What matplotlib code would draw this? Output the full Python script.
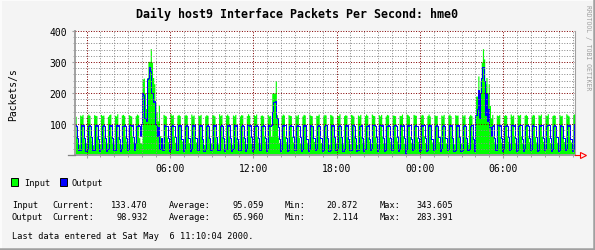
import numpy as np
import matplotlib
matplotlib.use("Agg")
import matplotlib.pyplot as plt
from matplotlib.lines import Line2D
from matplotlib.patches import Rectangle
from matplotlib.ticker import MultipleLocator

W, H = 595, 251
MONO = "DejaVu Sans Mono"

title = "Daily host9 Interface Packets Per Second: hme0"
ylabel = "Packets/s"
watermark = "RRDTOOL / TOBI OETIKER"
hour_ticks = [0, 6, 12, 18, 24, 30]
hour_labels = ["", "06:00", "12:00", "18:00", "00:00", "06:00"]
y_ticks = [0, 100, 200, 300, 400]
y_labels = ["", "100", "200", "300", "400"]
series_names = ["Input", "Output"]
series_colors = ["#00ff00", "#0000ff"]

# 5 minute samples, hours relative to the first midnight, first sample at 23:10
t_start = -50 / 60.0
t_step = 5 / 60.0

input_pps = [
    125, 60, 42, 35, 129, 126, 131, 57, 40, 37,                      # 23:10
    126, 132, 128, 63, 45, 33, 130, 128, 127, 61, 39, 36,            # 00
    131, 127, 129, 58, 43, 38, 125, 130, 132, 62, 41, 34,            # 01
    128, 126, 133, 60, 37, 35, 129, 131, 127, 59, 44, 36,            # 02
    130, 128, 126, 61, 42, 39, 127, 132, 129, 56, 40, 38,            # 03
    245, 248, 200, 150, 250, 302, 302, 343, 300, 250, 230, 170,      # 04
    140, 110, 160, 62, 40, 36, 131, 128, 126, 58, 43, 37,            # 05
    134, 128, 130, 60, 41, 36, 128, 131, 127, 62, 45, 35,            # 06
    127, 131, 128, 57, 40, 38, 132, 126, 129, 63, 42, 36,            # 07
    129, 127, 131, 61, 44, 34, 126, 130, 128, 59, 39, 37,            # 08
    131, 129, 126, 58, 42, 36, 133, 127, 130, 60, 21, 38,            # 09
    128, 132, 127, 62, 40, 35, 129, 126, 131, 57, 43, 36,            # 10
    126, 130, 129, 60, 45, 37, 127, 133, 128, 61, 38, 35,            # 11
    130, 127, 132, 59, 41, 36, 128, 129, 126, 62, 44, 38,            # 12
    131, 126, 128, 60, 200, 200, 200, 240, 130, 58, 40, 36,          # 13
    127, 132, 129, 61, 43, 35, 130, 128, 127, 60, 42, 37,            # 14
    129, 126, 131, 57, 39, 36, 126, 131, 129, 63, 41, 34,            # 15
    132, 128, 127, 59, 44, 37, 128, 127, 132, 61, 40, 36,            # 16
    126, 131, 129, 62, 41, 35, 131, 129, 126, 58, 43, 38,            # 17
    128, 127, 133, 60, 38, 36, 127, 130, 128, 59, 45, 37,            # 18
    131, 129, 126, 63, 42, 34, 129, 126, 131, 61, 40, 35,            # 19
    127, 132, 128, 58, 44, 38, 132, 128, 127, 60, 41, 36,            # 20
    130, 126, 131, 61, 39, 37, 126, 131, 129, 57, 43, 35,            # 21
    129, 128, 127, 59, 45, 36, 128, 127, 132, 62, 38, 34,            # 22
    132, 130, 126, 60, 41, 38, 131, 129, 128, 58, 44, 37,            # 23
    126, 131, 129, 62, 40, 35, 127, 132, 126, 61, 42, 36,            # 00
    130, 127, 128, 57, 43, 37, 129, 126, 131, 60, 39, 34,            # 01
    128, 132, 127, 63, 41, 36, 130, 128, 129, 59, 45, 38,            # 02
    131, 126, 130, 58, 44, 35, 126, 131, 127, 62, 40, 37,            # 03
    190, 190, 255, 200, 240, 300, 343, 310, 230, 250, 200, 230,      # 04
    160, 120, 131, 61, 42, 36, 129, 127, 130, 60, 41, 35,            # 05
    127, 130, 128, 59, 44, 37, 132, 126, 129, 62, 40, 36,            # 06
    130, 128, 131, 62, 39, 35, 128, 131, 127, 58, 43, 38,            # 07
    126, 131, 129, 60, 42, 36, 130, 127, 132, 61, 44, 35,            # 08
    129, 127, 133, 57, 40, 38, 127, 130, 128, 63, 41, 37,            # 09
    131, 126, 128, 61, 43, 34, 133, 129, 126, 59, 42, 36,            # 10
    131, 133,                                                        # 11:00
]

output_pps = [
    97, 94, 55, 15, 17, 96, 94, 98, 54, 13,                          # 23:10
    18, 95, 97, 94, 57, 15, 16, 96, 93, 97, 52, 12,                  # 00
    20, 94, 98, 95, 55, 14, 18, 97, 95, 96, 56, 16,                  # 01
    17, 96, 95, 97, 53, 13, 19, 94, 98, 95, 55, 15,                  # 02
    19, 97, 94, 96, 58, 16, 40, 95, 97, 94, 60, 100,                 # 03
    200, 195, 120, 110, 245, 250, 283, 270, 200, 170, 175, 100,      # 04
    95, 60, 90, 20, 55, 15, 17, 96, 95, 93, 56, 14,                  # 05
    18, 95, 97, 94, 57, 15, 16, 96, 93, 97, 52, 12,                  # 06
    20, 94, 98, 95, 55, 14, 18, 97, 95, 96, 56, 16,                  # 07
    17, 96, 95, 97, 53, 13, 19, 94, 98, 95, 55, 15,                  # 08
    19, 97, 94, 96, 58, 16, 17, 95, 96, 94, 54, 14,                  # 09
    18, 96, 93, 97, 56, 12, 20, 97, 95, 98, 53, 15,                  # 10
    16, 94, 97, 95, 55, 14, 18, 96, 94, 97, 57, 13,                  # 11
    19, 95, 98, 94, 54, 16, 17, 93, 96, 95, 56, 12,                  # 12
    18, 97, 95, 96, 140, 170, 170, 175, 120, 90, 52, 14,             # 13
    20, 96, 94, 97, 55, 13, 16, 95, 97, 94, 58, 15,                  # 14
    17, 94, 96, 95, 57, 14, 19, 97, 93, 96, 53, 12,                  # 15
    18, 97, 95, 93, 56, 16, 20, 94, 98, 95, 55, 14,                  # 16
    16, 95, 97, 96, 54, 13, 17, 96, 94, 97, 57, 15,                  # 17
    19, 93, 96, 94, 58, 12, 18, 97, 95, 96, 52, 16,                  # 18
    17, 96, 98, 95, 55, 14, 16, 95, 93, 97, 56, 13,                  # 19
    20, 94, 95, 97, 53, 15, 19, 96, 97, 94, 57, 12,                  # 20
    18, 97, 94, 96, 56, 13, 17, 94, 96, 95, 54, 16,                  # 21
    16, 95, 97, 93, 57, 14, 20, 97, 95, 98, 55, 2,                   # 22
    19, 96, 94, 97, 52, 15, 18, 93, 97, 95, 56, 13,                  # 23
    17, 97, 95, 96, 55, 12, 16, 96, 94, 97, 53, 15,                  # 00
    20, 94, 98, 94, 57, 14, 19, 95, 96, 93, 55, 16,                  # 01
    18, 96, 93, 97, 54, 13, 17, 97, 95, 96, 58, 12,                  # 02
    16, 95, 97, 95, 56, 15, 18, 94, 96, 97, 53, 14,                  # 03
    130, 150, 210, 120, 200, 250, 283, 240, 130, 200, 110, 150,      # 04
    90, 60, 95, 96, 55, 15, 17, 96, 94, 97, 54, 13,                  # 05
    19, 95, 97, 94, 57, 16, 18, 97, 95, 96, 55, 14,                  # 06
    17, 94, 96, 97, 53, 12, 20, 95, 98, 94, 56, 15,                  # 07
    18, 97, 94, 95, 58, 13, 16, 96, 93, 97, 54, 16,                  # 08
    20, 95, 97, 96, 55, 14, 19, 94, 96, 95, 57, 12,                  # 09
    17, 96, 95, 93, 56, 15, 18, 97, 94, 98, 53, 13,                  # 10
    18, 99,                                                          # 11:00
]

stat_names = ["Current:", "Average:", "Min:", "Max:"]
input_stats = [133.470, 95.059, 20.872, 343.605]
output_stats = [98.932, 65.960, 2.114, 283.391]
last_update = "Last data entered at Sat May  6 11:10:04 2000."


def fx(x):
    return x / W


def fy(y):
    return 1 - y / H


fig = plt.figure(figsize=(W / 100, H / 100), dpi=100, facecolor="#f4f4f4")
ax = fig.add_axes([fx(75), fy(156), fx(575) - fx(75), fy(32) - fy(156)])
ax.set_facecolor("white")

t = t_start + t_step * np.arange(len(input_pps) + 1)
gin = np.append(input_pps, input_pps[-1])
gout = np.append(output_pps, output_pps[-1])
ax.fill_between(t, 0, gin, step="post", color=series_colors[0], lw=0, zorder=1)
ax.step(t, gout, where="post", color=series_colors[1], lw=0.72, zorder=2)

ax.set_xlim(t[0], t[-1])
ax.set_ylim(0, 400)
ax.set_xticks(hour_ticks, hour_labels)
ax.set_yticks(y_ticks, y_labels)
ax.xaxis.set_minor_locator(MultipleLocator(1))
ax.yaxis.set_minor_locator(MultipleLocator(20))

# grid on top of the data, like rrdtool
ax.set_axisbelow(False)
ax.grid(which="minor", color="#8c8c8c", ls=(0, (1, 1.6)), lw=0.72, zorder=3)
ax.grid(which="major", color="#800000", ls=(0, (1, 1.6)), lw=0.72, zorder=4)

ax.spines["top"].set_visible(False)
ax.spines["left"].set_color("#a0a0a0")
ax.spines["left"].set_linewidth(1.4)
ax.spines["bottom"].set_color("#a0a0a0")
ax.spines["bottom"].set_linewidth(1.4)
ax.spines["right"].set_color("#a0a0a0")
ax.spines["right"].set_linewidth(0.8)

ax.tick_params(which="major", direction="out", length=2.5, width=0.8,
               color="#a0a0a0", labelsize=7, pad=3)
ax.tick_params(which="minor", direction="out", length=1.5, width=0.7,
               color="#a0a0a0")
for lab in ax.get_xticklabels() + ax.get_yticklabels():
    lab.set_fontfamily(MONO)

# zero dash and red arrow at the end of the time axis
fig.add_artist(Line2D([fx(68), fx(75)], [fy(156), fy(156)], color="#808080", lw=0.9))
fig.add_artist(Line2D([fx(575), fx(580)], [fy(156), fy(156)], color="red", lw=0.8))
fig.add_artist(Line2D([fx(582.5)], [fy(156)], marker=">", ms=4.5, mfc="none",
                      mec="red", mew=0.8))

fig.text(fx(297), fy(14), title, ha="center", va="center", fontsize=8.4,
         weight="bold", family=MONO)
fig.text(fx(13), fy(95), ylabel, rotation=90, ha="center", va="center",
         fontsize=7, family=MONO)
fig.text(fx(588), fy(48), watermark, rotation=270, ha="center", va="center",
         fontsize=4.7, color="#a0a0a0", family=MONO)

# legend
for x0, xt, name, col in zip([11, 59.5], [24, 71], series_names, series_colors):
    fig.add_artist(Rectangle((fx(x0), fy(187)), fx(7), 8 / H, facecolor=col,
                             edgecolor="black", lw=0.7))
    fig.text(fx(xt), fy(183.3), name, ha="left", va="center", fontsize=6.2,
             family=MONO)

# statistics
label_x = [52.3, 169.3, 285, 380]
value_x = [147.7, 264, 358.3, 453.3]
for y, name, vals in [(205, "Input", input_stats), (217.3, "Output", output_stats)]:
    fig.text(fx(11.7), fy(y), name, ha="left", va="center", fontsize=6.2, family=MONO)
    for lx, vx, sn, v in zip(label_x, value_x, stat_names, vals):
        fig.text(fx(lx), fy(y), sn, ha="left", va="center", fontsize=6.2, family=MONO)
        fig.text(fx(vx), fy(y), "%.3f" % v, ha="right", va="center", fontsize=6.2,
                 family=MONO)
fig.text(fx(11.7), fy(236.7), last_update, ha="left", va="center", fontsize=6.2,
         family=MONO)

# 3d frame around the image
fig.add_artist(Line2D([0, 1], [fy(0.8), fy(0.8)], color="#fcfcfc", lw=1.4))
fig.add_artist(Line2D([fx(0.8), fx(0.8)], [0, 1], color="#fcfcfc", lw=1.4))
fig.add_artist(Line2D([0, 1], [fy(249.8), fy(249.8)], color="#a0a0a0", lw=1.8))
fig.add_artist(Line2D([fx(593.8), fx(593.8)], [0, 1], color="#a0a0a0", lw=1.8))

fig.savefig("out.png", dpi=100, facecolor=fig.get_facecolor())
